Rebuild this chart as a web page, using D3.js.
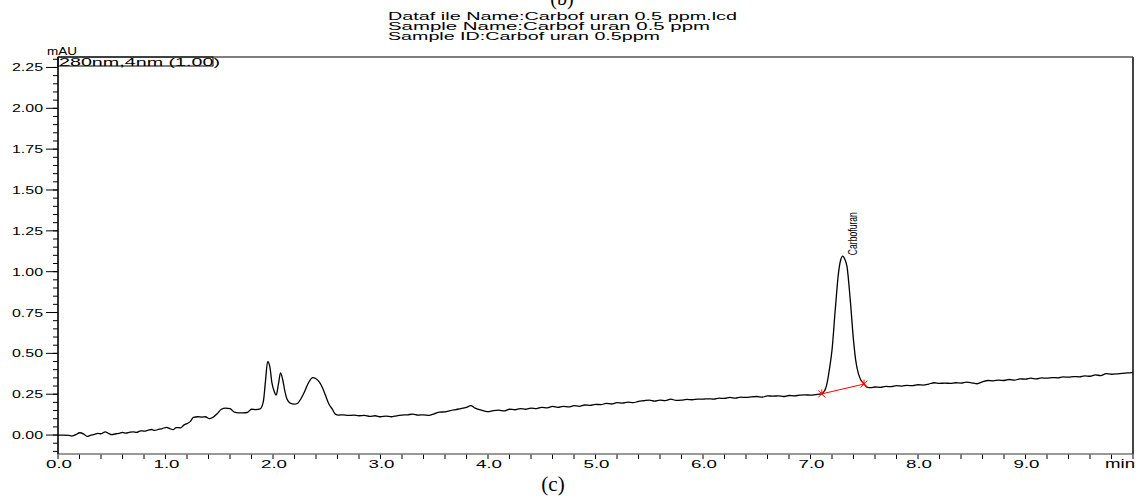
<!DOCTYPE html>
<html><head><meta charset="utf-8">
<script src="https://cdn.jsdelivr.net/npm/d3@7"></script>
<style>body{margin:0;background:#fff}svg{display:block}</style>
</head><body>
<svg id="c" width="1139" height="500"></svg>
<script>
// ---- data ----
const headerLines = ["Dataf ile Name:Carbof uran 0.5 ppm.lcd", "Sample Name:Carbof uran 0.5    ppm", "Sample ID:Carbof uran 0.5ppm"];
const channelLabel = "280nm,4nm (1.00)";
const yTickValues = [0.00, 0.25, 0.50, 0.75, 1.00, 1.25, 1.50, 1.75, 2.00, 2.25];
const xTickValues = [0, 1, 2, 3, 4, 5, 6, 7, 8, 9];
const peakName = "Carbofuran";
const peakApex = [7.30, 1.095];
const peakBaseline = [[7.105, 0.252], [7.498, 0.312]];
// [time (min), absorbance (mAU)]
const chromatogram = [
[0.00,0.000],[0.05,0.000],[0.10,-0.002],[0.13,-0.006],[0.17,0.004],[0.20,0.014],[0.24,0.006],[0.27,-0.008],
[0.30,-0.002],[0.34,0.004],[0.37,0.010],[0.40,0.008],[0.44,0.020],[0.47,0.010],[0.50,0.002],[0.54,0.008],
[0.57,0.010],[0.60,0.016],[0.63,0.012],[0.67,0.018],[0.70,0.020],[0.73,0.016],[0.77,0.026],[0.80,0.024],
[0.84,0.030],[0.87,0.034],[0.90,0.028],[0.94,0.036],[0.97,0.040],[1.01,0.047],[1.04,0.040],[1.07,0.033],
[1.10,0.046],[1.14,0.044],[1.17,0.061],[1.20,0.070],[1.23,0.082],[1.26,0.108],[1.30,0.112],[1.34,0.110],
[1.37,0.112],[1.41,0.100],[1.44,0.108],[1.48,0.130],[1.52,0.158],[1.56,0.165],[1.60,0.162],[1.64,0.140],
[1.68,0.136],[1.72,0.136],[1.76,0.138],[1.80,0.158],[1.84,0.156],[1.88,0.160],[1.91,0.204],[1.93,0.330],
[1.95,0.449],[1.97,0.420],[1.99,0.320],[2.01,0.270],[2.03,0.245],[2.05,0.310],[2.07,0.381],[2.09,0.340],
[2.11,0.270],[2.13,0.220],[2.16,0.195],[2.20,0.189],[2.23,0.195],[2.26,0.222],[2.29,0.260],[2.33,0.320],
[2.37,0.352],[2.40,0.345],[2.43,0.325],[2.46,0.290],[2.49,0.240],[2.52,0.190],[2.55,0.160],[2.58,0.128],
[2.61,0.122],[2.65,0.124],[2.70,0.120],[2.75,0.122],[2.80,0.118],[2.85,0.120],[2.90,0.114],[2.95,0.118],
[3.00,0.112],[3.05,0.116],[3.10,0.112],[3.15,0.118],[3.20,0.122],[3.25,0.124],[3.30,0.128],[3.35,0.122],
[3.40,0.124],[3.45,0.120],[3.50,0.130],[3.55,0.140],[3.60,0.142],[3.65,0.150],[3.70,0.156],[3.75,0.162],
[3.80,0.170],[3.84,0.180],[3.88,0.165],[3.92,0.155],[3.96,0.148],[4.00,0.143],[4.05,0.150],[4.10,0.152],
[4.15,0.148],[4.20,0.158],[4.25,0.155],[4.30,0.162],[4.35,0.158],[4.40,0.165],[4.45,0.162],[4.50,0.170],
[4.55,0.166],[4.60,0.175],[4.65,0.170],[4.70,0.176],[4.75,0.172],[4.80,0.180],[4.85,0.176],[4.90,0.184],
[4.95,0.182],[5.00,0.188],[5.05,0.186],[5.10,0.194],[5.15,0.190],[5.20,0.198],[5.25,0.196],[5.30,0.202],
[5.35,0.198],[5.40,0.206],[5.45,0.210],[5.50,0.214],[5.55,0.208],[5.60,0.214],[5.65,0.211],[5.70,0.220],
[5.75,0.212],[5.80,0.214],[5.85,0.218],[5.90,0.216],[5.95,0.220],[6.00,0.220],[6.05,0.222],[6.10,0.220],
[6.15,0.226],[6.20,0.224],[6.25,0.230],[6.30,0.226],[6.35,0.232],[6.40,0.230],[6.45,0.234],[6.50,0.236],
[6.55,0.232],[6.60,0.240],[6.65,0.238],[6.70,0.240],[6.75,0.236],[6.80,0.242],[6.85,0.240],[6.90,0.244],
[6.95,0.246],[7.00,0.244],[7.05,0.248],[7.10,0.252],[7.13,0.270],[7.15,0.306],[7.18,0.420],[7.20,0.520],
[7.23,0.765],[7.26,0.990],[7.28,1.070],[7.30,1.095],[7.32,1.075],[7.34,1.030],[7.37,0.826],[7.40,0.581],
[7.42,0.460],[7.445,0.377],[7.47,0.335],[7.50,0.312],[7.53,0.292],[7.56,0.290],[7.60,0.294],[7.65,0.292],
[7.70,0.298],[7.75,0.296],[7.80,0.302],[7.85,0.300],[7.90,0.304],[7.95,0.302],[8.00,0.308],[8.05,0.306],
[8.10,0.312],[8.15,0.320],[8.20,0.316],[8.25,0.318],[8.30,0.316],[8.35,0.320],[8.40,0.318],[8.45,0.324],
[8.50,0.320],[8.55,0.314],[8.60,0.326],[8.65,0.334],[8.70,0.332],[8.75,0.336],[8.80,0.334],[8.85,0.340],
[8.90,0.336],[8.95,0.344],[9.00,0.342],[9.05,0.348],[9.10,0.344],[9.15,0.350],[9.20,0.348],[9.25,0.352],
[9.30,0.350],[9.35,0.356],[9.40,0.354],[9.45,0.358],[9.50,0.356],[9.55,0.362],[9.60,0.360],[9.65,0.368],
[9.70,0.364],[9.75,0.376],[9.80,0.372],[9.85,0.374],[9.90,0.378],[9.95,0.380],[10.00,0.384]
];

// ---- layout ----
const L = 58, R = 1133, T = 57, B = 454;
const svg = d3.select("#c");
const x = d3.scaleLinear().domain([0, 10]).range([L, R]);
const y = d3.scaleLinear().domain([-0.116, 2.314]).range([B, T]);
const sans = "Arial, 'Liberation Sans', sans-serif";

// header
svg.append("text").attr("x", 562).attr("y", 5).attr("text-anchor", "middle")
  .attr("font-family", "'Times New Roman','Liberation Serif',serif").attr("font-size", 20).text("(b)");
const hdrW = [349, 322, 272];
headerLines.forEach((s, i) => {
  svg.append("text").attr("x", 388).attr("y", 20 + i * 10.2)
    .attr("font-family", sans).attr("font-size", 10.5)
    .attr("textLength", hdrW[i]).attr("lengthAdjust", "spacingAndGlyphs").text(s);
});

// y axis (ticks to the left)
const yMinor = d3.range(-0.10, 2.3001, 0.05).map(v => Math.round(v * 100) / 100);
const ax = svg.append("g");
ax.selectAll(".ymin").data(yMinor).join("line")
  .attr("x1", L - 5).attr("x2", L).attr("y1", d => y(d)).attr("y2", d => y(d))
  .attr("stroke", "#000").attr("stroke-width", 1);
ax.selectAll(".ymaj").data(yTickValues).join("line")
  .attr("x1", L - 12).attr("x2", L).attr("y1", d => y(d)).attr("y2", d => y(d))
  .attr("stroke", "#000").attr("stroke-width", 1);
ax.selectAll(".ylab").data(yTickValues).join("text")
  .attr("x", 43).attr("y", d => y(d) + 4).attr("text-anchor", "end")
  .attr("font-family", sans).attr("font-size", 11)
  .attr("textLength", 31).attr("lengthAdjust", "spacingAndGlyphs")
  .text(d => d3.format(".2f")(d));

// x axis (ticks downward)
const xMinor = d3.range(0, 10.001, 0.2).map(v => Math.round(v * 10) / 10);
ax.selectAll(".xmin").data(xMinor).join("line")
  .attr("x1", d => x(d)).attr("x2", d => x(d)).attr("y1", B).attr("y2", B + 5)
  .attr("stroke", "#000").attr("stroke-width", 1);
ax.selectAll(".xlab").data(xTickValues).join("text")
  .attr("x", d => x(d) + 1).attr("y", 468).attr("text-anchor", "middle")
  .attr("font-family", sans).attr("font-size", 11)
  .attr("textLength", 26).attr("lengthAdjust", "spacingAndGlyphs")
  .text(d => d3.format(".1f")(d));
ax.append("text").attr("x", 1135).attr("y", 468).attr("text-anchor", "end")
  .attr("font-family", sans).attr("font-size", 12)
  .attr("textLength", 30).attr("lengthAdjust", "spacingAndGlyphs").text("min");

// frame
svg.append("line").attr("x1", L).attr("x2", R + 1).attr("y1", B).attr("y2", B).attr("stroke", "#777").attr("stroke-width", 1.6);
svg.append("line").attr("x1", L).attr("x2", L).attr("y1", T).attr("y2", B).attr("stroke", "#000").attr("stroke-width", 1.6);
svg.append("line").attr("x1", L).attr("x2", R).attr("y1", T).attr("y2", T).attr("stroke", "#000").attr("stroke-width", 1);
svg.append("line").attr("x1", R).attr("x2", R).attr("y1", T).attr("y2", B).attr("stroke", "#444").attr("stroke-width", 2);

// mAU + channel box
svg.append("text").attr("x", 47).attr("y", 55).attr("font-family", sans).attr("font-size", 11)
  .attr("textLength", 30).attr("lengthAdjust", "spacingAndGlyphs").text("mAU");
svg.append("rect").attr("x", L).attr("y", T).attr("width", 155).attr("height", 9)
  .attr("fill", "none").attr("stroke", "#000").attr("stroke-width", 1);
svg.append("text").attr("x", 59).attr("y", 65.5).attr("font-family", sans).attr("font-size", 10.5)
  .attr("textLength", 161).attr("lengthAdjust", "spacingAndGlyphs").text(channelLabel);

// trace
const line = d3.line().x(d => x(d[0])).y(d => y(d[1])).curve(d3.curveMonotoneX);
svg.append("path").datum(chromatogram).attr("d", line)
  .attr("fill", "none").attr("stroke", "#000").attr("stroke-width", 1.3).attr("stroke-linejoin", "round");

// peak baseline (red) and markers
svg.append("line").attr("x1", x(peakBaseline[0][0])).attr("y1", y(peakBaseline[0][1]))
  .attr("x2", x(peakBaseline[1][0])).attr("y2", y(peakBaseline[1][1]))
  .attr("stroke", "#f00").attr("stroke-width", 1);
peakBaseline.forEach(p => {
  const cx = x(p[0]), cy = y(p[1]), s = 3.5;
  const g = svg.append("g").attr("stroke", "#f00").attr("stroke-width", 1);
  g.append("line").attr("x1", cx - s).attr("y1", cy - s).attr("x2", cx + s).attr("y2", cy + s);
  g.append("line").attr("x1", cx - s).attr("y1", cy + s).attr("x2", cx + s).attr("y2", cy - s);
  g.append("line").attr("x1", cx).attr("y1", cy - s - 1).attr("x2", cx).attr("y2", cy + 1);
});

// peak label
const lx = x(peakApex[0]) + 14, ly = y(peakApex[1]) - 1;
svg.append("text").attr("transform", `translate(${lx},${ly}) rotate(-90)`)
  .attr("font-family", "'Liberation Sans Narrow', Arial, sans-serif").attr("font-size", 12)
  .attr("textLength", 43).attr("lengthAdjust", "spacingAndGlyphs").text(peakName);

// footer
svg.append("text").attr("x", 553).attr("y", 491).attr("text-anchor", "middle")
  .attr("font-family", "'Times New Roman','Liberation Serif',serif").attr("font-size", 21).text("(c)");
</script>
</body></html>
